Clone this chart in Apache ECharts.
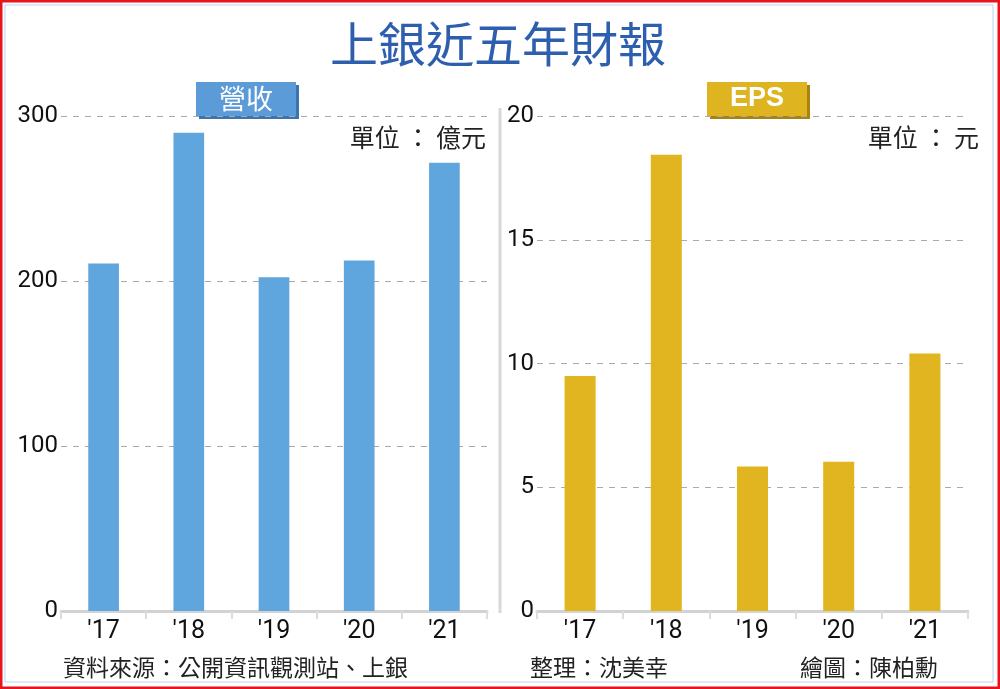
<!DOCTYPE html>
<html>
  <head>
    <meta charset="UTF-8" />
    <title>上銀近五年財報</title>
    <style>
      html, body { margin: 0; padding: 0; background: #fff; }
      #chart { width: 1000px; height: 689px; }
    </style>
    <script src="https://cdn.jsdelivr.net/npm/echarts@6/dist/echarts.min.js"></script>
  </head>
  <body>
    <div id="chart"></div>
    <script>
      var years = ["'17", "'18", "'19", "'20", "'21"];
      // 營收 (億元)
      var revenue = [210.6, 289.9, 202.2, 212.5, 271.7];
      // EPS (元)
      var eps = [9.5, 18.43, 5.84, 6.03, 10.4];

      var cjk = "'Noto Sans CJK TC', 'Noto Sans CJK SC', sans-serif";
      var numFont = "'Liberation Sans Narrow', 'Roboto', sans-serif";

      var myChart = echarts.init(document.getElementById("chart"));

      function xAxisOf(idx) {
        return {
          type: "category",
          gridIndex: idx,
          data: years,
          axisLine: { lineStyle: { color: "#d2d2d2", width: 3 } },
          axisTick: { show: true, interval: 0, length: 8, lineStyle: { color: "#dcdcdc", width: 2 } },
          axisLabel: { color: "#111", fontSize: 25, fontFamily: numFont, margin: 8 }
        };
      }

      function yAxisOf(idx, max, step) {
        return {
          type: "value",
          gridIndex: idx,
          min: 0,
          max: max,
          interval: step,
          axisLine: { show: false },
          axisTick: { show: false },
          axisLabel: { color: "#111", fontSize: 24, fontFamily: numFont, margin: 3 },
          splitLine: { lineStyle: { color: "#aaaaaa", type: [6, 6], width: 1 } }
        };
      }

      function badge(x, y, label, color, dark, font) {
        return [
          { type: "rect", shape: { x: x + 3, y: y + 3, width: 100, height: 34 }, style: { fill: dark } },
          { type: "rect", shape: { x: x, y: y, width: 100, height: 34 }, style: { fill: color } },
          {
            type: "text", x: x + 50, y: y + 17,
            style: { text: label, fill: "#fff", font: font, textAlign: "center", textVerticalAlign: "middle" }
          }
        ];
      }

      var graphics = [
        { type: "rect", shape: { x: 0, y: 0, width: 1000, height: 689 }, style: { fill: "none", stroke: "#e8141c", lineWidth: 5 }, z: 10 },
        { type: "rect", shape: { x: 5, y: 5, width: 988, height: 677 }, style: { fill: "none", stroke: "#bcd3ea", lineWidth: 1 }, z: 10 },
        { type: "line", shape: { x1: 500, y1: 108, x2: 500, y2: 613 }, style: { stroke: "#d8d8d8", lineWidth: 3 } },
        {
          type: "text", x: 498, y: 44,
          style: { text: "上銀近五年財報", fill: "#2d5fae", font: "48px " + cjk, textAlign: "center", textVerticalAlign: "middle" }
        },
        {
          type: "text", x: 486, y: 137,
          style: { text: "單位 ： 億元", fill: "#222", font: "25px " + cjk, textAlign: "right", textVerticalAlign: "middle" }
        },
        {
          type: "text", x: 979, y: 137,
          style: { text: "單位 ： 元", fill: "#222", font: "25px " + cjk, textAlign: "right", textVerticalAlign: "middle" }
        },
        {
          type: "text", x: 63, y: 667,
          style: { text: "資料來源：公開資訊觀測站、上銀", fill: "#222", font: "23px " + cjk, textVerticalAlign: "middle" }
        },
        {
          type: "text", x: 530, y: 667,
          style: { text: "整理：沈美幸", fill: "#222", font: "23px " + cjk, textVerticalAlign: "middle" }
        },
        {
          type: "text", x: 938, y: 667,
          style: { text: "繪圖：陳柏勳", fill: "#222", font: "23px " + cjk, textAlign: "right", textVerticalAlign: "middle" }
        }
      ]
        .concat(badge(196, 82, "營收", "#5b9bd8", "#3b74b0", "27px " + cjk))
        .concat(badge(707, 82, "EPS", "#dfb421", "#a8840e", "bold 27px 'Liberation Sans Narrow', 'Liberation Sans', sans-serif"));

      var option = {
        animation: false,
        grid: [
          { left: 61, right: 513, top: 116, bottom: 78 },
          { left: 537, right: 32, top: 116, bottom: 78 }
        ],
        xAxis: [xAxisOf(0), xAxisOf(1)],
        yAxis: [yAxisOf(0, 300, 100), yAxisOf(1, 20, 5)],
        series: [
          {
            name: "營收", type: "bar", xAxisIndex: 0, yAxisIndex: 0,
            data: revenue, barWidth: "36%", itemStyle: { color: "#5fa5de" }
          },
          {
            name: "EPS", type: "bar", xAxisIndex: 1, yAxisIndex: 1,
            data: eps, barWidth: "36%", itemStyle: { color: "#e0b51f" }
          }
        ],
        graphic: graphics
      };

      myChart.setOption(option);
    </script>
  </body>
</html>
